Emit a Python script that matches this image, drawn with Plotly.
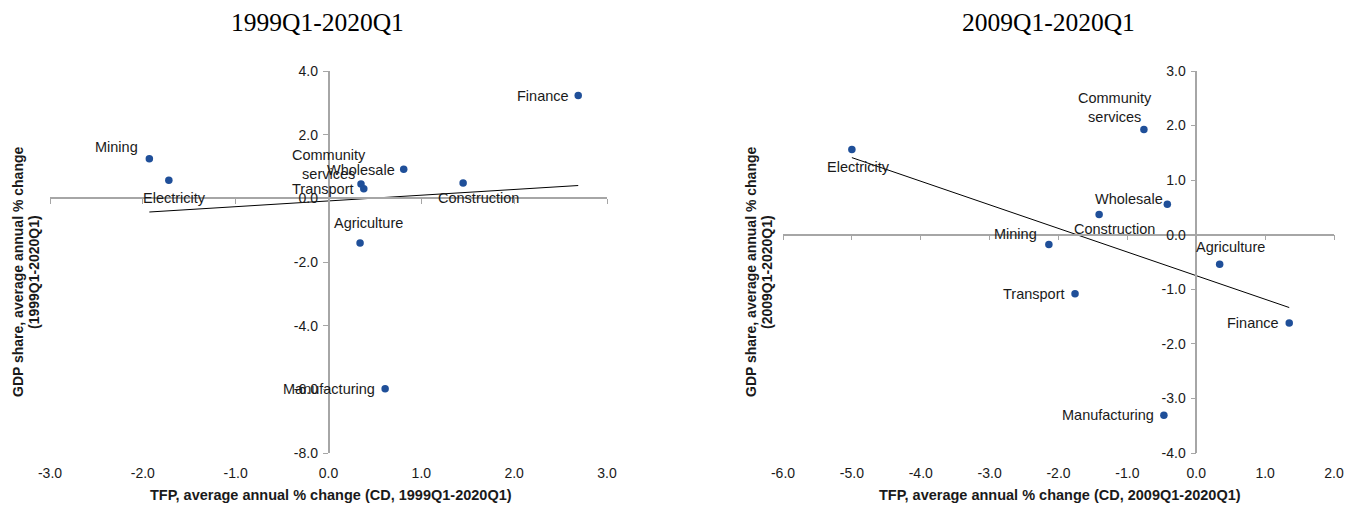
import numpy as np
import plotly.graph_objects as go

# ---- data -------------------------------------------------------------
sectors_a = ["Finance", "Mining", "Electricity", "Wholesale", "Community services",
             "Transport", "Construction", "Agriculture", "Manufacturing"]
tfp_a = [2.69, -1.93, -1.72, 0.81, 0.35, 0.38, 1.45, 0.34, 0.61]
gdp_a = [3.23, 1.24, 0.57, 0.91, 0.45, 0.30, 0.48, -1.40, -5.98]

sectors_b = ["Electricity", "Community services", "Wholesale", "Construction", "Mining",
             "Agriculture", "Transport", "Finance", "Manufacturing"]
tfp_b = [-5.00, -0.76, -0.42, -1.41, -2.14, 0.34, -1.76, 1.35, -0.47]
gdp_b = [1.56, 1.93, 0.56, 0.37, -0.18, -0.54, -1.08, -1.62, -3.31]

xticks_a = [-3, -2, -1, 0, 1, 2, 3]
yticks_a = [-8, -6, -4, -2, 0, 2, 4]
xticks_b = [-6, -5, -4, -3, -2, -1, 0, 1, 2]
yticks_b = [-4, -3, -2, -1, 0, 1, 2, 3]

title_a = "1999Q1-2020Q1"
title_b = "2009Q1-2020Q1"

# ---- styling ------------------------------------------------------------
W, H = 1365, 507
SANS = "Liberation Sans, Arial, sans-serif"
SERIF = "Liberation Serif, Times New Roman, serif"
DOT = "#1f4f99"
AXIS = "#a6a6a6"
TXT = "#1a1a1a"

# label placement per sector: (xanchor, xshift px, yshift px)
place_a = {
    "Finance": ("right", -7, 0),
    "Mining": ("right", -9, 12),
    "Electricity": ("center", 6, -18),
    "Wholesale": ("right", -7, -1),
    "Community services": ("center", -32, 20),
    "Transport": ("right", -8, 0),
    "Construction": ("center", 15, -15),
    "Agriculture": ("center", 8, 20),
    "Manufacturing": ("right", -8, 0),
}
place_b = {
    "Electricity": ("center", 7, -17),
    "Community services": ("center", -29, 22),
    "Wholesale": ("right", -2, 5),
    "Construction": ("center", 15, -14),
    "Mining": ("right", -10, 11),
    "Agriculture": ("center", 11, 17),
    "Transport": ("right", -8, 0),
    "Finance": ("right", -8, 0),
    "Manufacturing": ("right", -8, 0),
}


def px_x(x):
    return x / W


def px_y(y):
    return 1 - y / H


def fmt(vals):
    # plain hyphen-minus for negative tick labels
    return [f"{v:.1f}" for v in vals]


panels = [
    dict(names=sectors_a, x=tfp_a, y=gdp_a, title=title_a, place=place_a,
         left=50, right=607, xr=(-3, 3), yr=(-8, 4), xt=xticks_a, yt=yticks_a,
         xaxis="x", yaxis="y", xline="x3",
         ylab1="GDP share, average annual % change", ylab2="(1999Q1-2020Q1)",
         xlab="TFP, average annual % change (CD, 1999Q1-2020Q1)",
         ytitle_x=(18, 34), title_cx=317, xlab_cx=331),
    dict(names=sectors_b, x=tfp_b, y=gdp_b, title=title_b, place=place_b,
         left=783, right=1334, xr=(-6, 2), yr=(-4, 3), xt=xticks_b, yt=yticks_b,
         xaxis="x2", yaxis="y2", xline="x4",
         ylab1="GDP share, average annual % change", ylab2="(2009Q1-2020Q1)",
         xlab="TFP, average annual % change (CD, 2009Q1-2020Q1)",
         ytitle_x=(751, 767), title_cx=1048, xlab_cx=1060),
]

TOP, BOTTOM = 71, 453
ydom = [px_y(BOTTOM), px_y(TOP)]

fig = go.Figure()
layout = dict(
    template="none",
    width=W, height=H,
    margin=dict(l=0, r=0, t=0, b=0, autoexpand=False),
    paper_bgcolor="white", plot_bgcolor="white",
    showlegend=False,
    annotations=[],
)

for i, p in enumerate(panels):
    xd = [px_x(p["left"]), px_x(p["right"])]
    # paper position of x = 0 and y = 0 so the axes cross at the origin
    x0_paper = xd[0] + (0 - p["xr"][0]) / (p["xr"][1] - p["xr"][0]) * (xd[1] - xd[0])
    y0_paper = ydom[0] + (0 - p["yr"][0]) / (p["yr"][1] - p["yr"][0]) * (ydom[1] - ydom[0])

    xa = "xaxis" + ("" if i == 0 else str(i + 1))
    ya = "yaxis" + ("" if i == 0 else str(i + 1))
    xl = "xaxis" + p["xline"][1:]
    ykey = p["yaxis"]

    # bottom axis carrying the tick labels only
    layout[xa] = dict(domain=xd, range=list(p["xr"]), automargin=False,
                      tickvals=p["xt"], ticktext=fmt(p["xt"]),
                      showline=False, showgrid=False,
                      zeroline=False, ticks="", anchor=ykey,
                      ticklabelstandoff=10,
                      tickfont=dict(family=SANS, size=14, color=TXT))
    # axis line with tick marks through y = 0
    layout[xl] = dict(overlaying=p["xaxis"], range=list(p["xr"]), tickvals=p["xt"],
                      automargin=False,
                      anchor="free", position=y0_paper, side="bottom",
                      showline=True, linecolor=AXIS, linewidth=1.5,
                      ticks="outside", ticklen=5, tickcolor=AXIS, tickwidth=1.2,
                      showticklabels=False, showgrid=False, zeroline=False)
    # vertical axis through x = 0
    layout[ya] = dict(domain=ydom, range=list(p["yr"]), automargin=False,
                      tickvals=p["yt"], ticktext=fmt(p["yt"]),
                      anchor="free", position=x0_paper,
                      showline=True, linecolor=AXIS, linewidth=1.5,
                      ticks="outside", ticklen=5, tickcolor=AXIS, tickwidth=1.2,
                      ticklabelstandoff=2,
                      showgrid=False, zeroline=False,
                      tickfont=dict(family=SANS, size=14, color=TXT))

    # linear trend
    slope, icpt = np.polyfit(p["x"], p["y"], 1)
    tx = np.array([min(p["x"]), max(p["x"])])
    fig.add_trace(go.Scatter(x=tx, y=slope * tx + icpt, mode="lines",
                             line=dict(color="black", width=1),
                             xaxis=p["xline"], yaxis=ykey, hoverinfo="skip"))
    # sectors
    fig.add_trace(go.Scatter(x=p["x"], y=p["y"], mode="markers",
                             marker=dict(color=DOT, size=7.5),
                             text=p["names"], xaxis=p["xaxis"], yaxis=ykey))

    for name, xv, yv in zip(p["names"], p["x"], p["y"]):
        anc, dx, dy = p["place"][name]
        layout["annotations"].append(dict(
            x=xv, y=yv, xref=p["xaxis"], yref=ykey,
            text=name.replace("Community services", "Community<br>services"),
            showarrow=False, xanchor=anc, yanchor="middle", align="center",
            xshift=dx, yshift=dy,
            font=dict(family=SANS, size=14.5, color=TXT)))

    # panel title
    layout["annotations"].append(dict(
        x=px_x(p["title_cx"]), y=px_y(22), xref="paper", yref="paper",
        text=p["title"], showarrow=False, xanchor="center", yanchor="middle",
        font=dict(family=SERIF, size=25.5, color="black")))
    # x axis title
    layout["annotations"].append(dict(
        x=px_x(p["xlab_cx"]), y=px_y(495), xref="paper", yref="paper",
        text="<b>" + p["xlab"] + "</b>", showarrow=False,
        xanchor="center", yanchor="middle",
        font=dict(family=SANS, size=14.5, color=TXT)))
    # y axis title (two lines)
    for lab, cx in zip([p["ylab1"], p["ylab2"]], p["ytitle_x"]):
        layout["annotations"].append(dict(
            x=px_x(cx), y=px_y(272), xref="paper", yref="paper",
            text="<b>" + lab + "</b>", showarrow=False, textangle=-90,
            xanchor="center", yanchor="middle",
            font=dict(family=SANS, size=14, color=TXT)))

fig.update_layout(**layout)
fig.write_html("out.html",
               post_script="document.body.style.margin='0';"
                           "document.body.style.overflow='hidden';")
